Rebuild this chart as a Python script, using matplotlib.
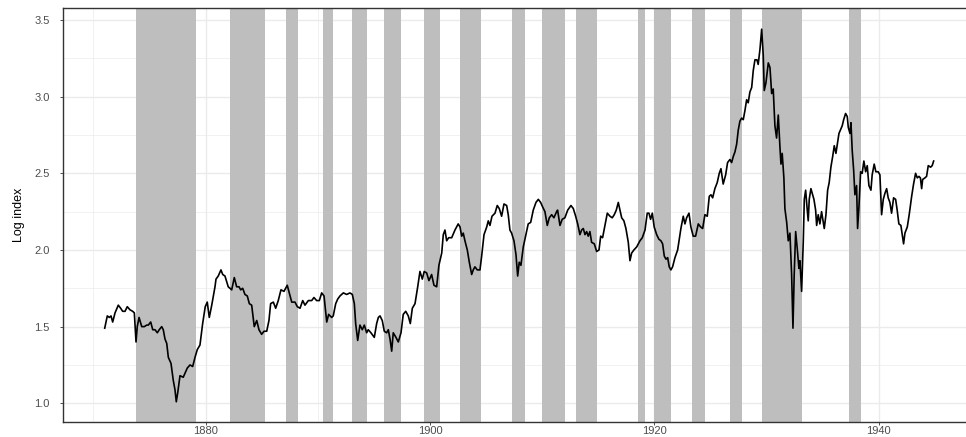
import matplotlib
matplotlib.use("Agg")
import matplotlib.pyplot as plt
from matplotlib.ticker import MultipleLocator

# monthly-ish readings of the log stock price index
years = [
    1871.00, 1871.23, 1871.41, 1871.56, 1871.71, 1871.92, 1872.21, 1872.42, 1872.60, 1872.81,
    1873.01, 1873.25, 1873.49, 1873.64, 1873.79, 1873.90, 1874.06, 1874.30, 1874.53, 1874.74,
    1874.88, 1875.10, 1875.28, 1875.48, 1875.69, 1875.86, 1876.08, 1876.22, 1876.37, 1876.53,
    1876.67, 1876.91, 1877.11, 1877.26, 1877.38, 1877.51, 1877.71, 1878.00, 1878.18, 1878.36,
    1878.60, 1878.84, 1879.05, 1879.25, 1879.49, 1879.73, 1879.96, 1880.14, 1880.32, 1880.54,
    1880.83, 1880.92, 1881.12, 1881.36, 1881.52, 1881.72, 1882.01, 1882.32, 1882.55, 1882.76,
    1882.97, 1883.12, 1883.30, 1883.50, 1883.71, 1883.89, 1884.10, 1884.33, 1884.55, 1884.75,
    1884.99, 1885.20, 1885.44, 1885.64, 1885.79, 1886.03, 1886.24, 1886.47, 1886.71, 1886.98,
    1887.27, 1887.45, 1887.67, 1887.96, 1888.17, 1888.41, 1888.65, 1888.85, 1889.15, 1889.45,
    1889.65, 1889.89, 1890.13, 1890.34, 1890.55, 1890.79, 1890.96, 1891.23, 1891.37, 1891.59,
    1891.77, 1891.97, 1892.27, 1892.57, 1892.86, 1893.07, 1893.25, 1893.37, 1893.55, 1893.75,
    1893.96, 1894.14, 1894.35, 1894.49, 1894.73, 1895.03, 1895.24, 1895.39, 1895.54, 1895.74,
    1895.92, 1896.13, 1896.28, 1896.43, 1896.58, 1896.72, 1896.96, 1897.17, 1897.41, 1897.61,
    1897.83, 1898.06, 1898.24, 1898.42, 1898.66, 1898.90, 1899.10, 1899.31, 1899.48, 1899.70,
    1899.90, 1900.14, 1900.35, 1900.59, 1900.79, 1901.04, 1901.18, 1901.33, 1901.48, 1901.66,
    1901.93, 1902.22, 1902.51, 1902.67, 1902.82, 1902.96, 1903.11, 1903.32, 1903.50, 1903.71,
    1903.85, 1904.00, 1904.21, 1904.45, 1904.60, 1904.81, 1905.05, 1905.19, 1905.34, 1905.52,
    1905.79, 1905.99, 1906.17, 1906.38, 1906.59, 1906.83, 1906.97, 1907.12, 1907.27, 1907.48,
    1907.66, 1907.81, 1907.95, 1908.10, 1908.31, 1908.55, 1908.75, 1908.97, 1909.20, 1909.44,
    1909.65, 1909.86, 1910.04, 1910.24, 1910.45, 1910.63, 1910.84, 1911.04, 1911.28, 1911.37,
    1911.58, 1911.78, 1912.02, 1912.27, 1912.56, 1912.77, 1912.98, 1913.16, 1913.36, 1913.51,
    1913.66, 1913.81, 1913.96, 1914.10, 1914.25, 1914.40, 1914.64, 1914.85, 1915.06, 1915.21,
    1915.38, 1915.59, 1915.80, 1916.04, 1916.24, 1916.42, 1916.60, 1916.78, 1916.93, 1917.08,
    1917.28, 1917.46, 1917.67, 1917.82, 1917.97, 1918.17, 1918.42, 1918.71, 1918.92, 1919.16,
    1919.36, 1919.51, 1919.66, 1919.81, 1919.98, 1920.20, 1920.40, 1920.58, 1920.73, 1920.88,
    1921.03, 1921.18, 1921.32, 1921.47, 1921.62, 1921.83, 1922.07, 1922.27, 1922.36, 1922.57,
    1922.72, 1922.87, 1923.08, 1923.25, 1923.46, 1923.67, 1923.91, 1924.12, 1924.30, 1924.50,
    1924.71, 1924.89, 1925.04, 1925.19, 1925.39, 1925.60, 1925.78, 1925.93, 1926.13, 1926.35,
    1926.52, 1926.73, 1926.88, 1927.03, 1927.18, 1927.33, 1927.47, 1927.62, 1927.77, 1927.92,
    1928.07, 1928.22, 1928.36, 1928.51, 1928.67, 1928.81, 1928.96, 1929.14, 1929.25, 1929.41,
    1929.56, 1929.70, 1929.79, 1929.94, 1930.15, 1930.30, 1930.45, 1930.59, 1930.74, 1930.89,
    1931.04, 1931.19, 1931.28, 1931.39, 1931.54, 1931.63, 1931.79, 1931.93, 1932.08, 1932.23,
    1932.35, 1932.46, 1932.59, 1932.73, 1932.88, 1932.97, 1933.12, 1933.27, 1933.36, 1933.48,
    1933.60, 1933.71, 1933.80, 1933.95, 1934.22, 1934.37, 1934.46, 1934.60, 1934.75, 1934.90,
    1935.14, 1935.29, 1935.44, 1935.58, 1935.73, 1935.89, 1936.03, 1936.18, 1936.30, 1936.45,
    1936.74, 1936.87, 1937.04, 1937.19, 1937.28, 1937.43, 1937.52, 1937.63, 1937.76, 1937.87,
    1938.02, 1938.11, 1938.23, 1938.38, 1938.52, 1938.67, 1938.83, 1938.97, 1939.12, 1939.30,
    1939.41, 1939.59, 1939.74, 1939.95, 1940.10, 1940.25, 1940.40, 1940.55, 1940.70, 1940.84,
    1940.99, 1941.14, 1941.32, 1941.50, 1941.64, 1941.79, 1941.97, 1942.09, 1942.21, 1942.33,
    1942.54, 1942.71, 1942.93, 1943.10, 1943.28, 1943.43, 1943.58, 1943.71, 1943.82, 1943.91,
    1944.11, 1944.26, 1944.41, 1944.62, 1944.76, 1944.89,
]
log_index = [
    1.49, 1.57, 1.56, 1.57, 1.53, 1.59, 1.64, 1.62, 1.60, 1.60,
    1.63, 1.61, 1.60, 1.59, 1.40, 1.50, 1.56, 1.50, 1.50, 1.51,
    1.51, 1.53, 1.48, 1.48, 1.46, 1.48, 1.50, 1.48, 1.42, 1.39,
    1.30, 1.26, 1.15, 1.09, 1.01, 1.07, 1.18, 1.17, 1.20, 1.23,
    1.25, 1.24, 1.30, 1.35, 1.38, 1.52, 1.63, 1.66, 1.56, 1.64,
    1.76, 1.81, 1.83, 1.87, 1.84, 1.83, 1.76, 1.74, 1.82, 1.76,
    1.76, 1.74, 1.75, 1.71, 1.70, 1.65, 1.64, 1.50, 1.54, 1.48,
    1.45, 1.47, 1.47, 1.54, 1.65, 1.66, 1.62, 1.67, 1.74, 1.73,
    1.77, 1.72, 1.66, 1.66, 1.63, 1.62, 1.67, 1.64, 1.67, 1.67,
    1.69, 1.67, 1.67, 1.72, 1.70, 1.53, 1.58, 1.56, 1.57, 1.65,
    1.68, 1.70, 1.72, 1.71, 1.72, 1.71, 1.65, 1.52, 1.41, 1.51,
    1.48, 1.51, 1.46, 1.48, 1.46, 1.43, 1.52, 1.56, 1.57, 1.54,
    1.47, 1.46, 1.48, 1.42, 1.34, 1.46, 1.43, 1.40, 1.46, 1.58,
    1.60, 1.57, 1.52, 1.62, 1.65, 1.76, 1.86, 1.81, 1.86, 1.85,
    1.80, 1.84, 1.77, 1.76, 1.90, 1.98, 2.10, 2.13, 2.06, 2.08,
    2.08, 2.13, 2.17, 2.15, 2.09, 2.11, 2.06, 2.00, 1.92, 1.84,
    1.87, 1.89, 1.87, 1.87, 1.96, 2.10, 2.15, 2.19, 2.16, 2.22,
    2.24, 2.29, 2.27, 2.22, 2.30, 2.29, 2.23, 2.13, 2.11, 2.06,
    1.97, 1.83, 1.92, 1.90, 2.02, 2.10, 2.17, 2.18, 2.26, 2.31,
    2.33, 2.31, 2.28, 2.25, 2.16, 2.21, 2.23, 2.21, 2.25, 2.26,
    2.16, 2.20, 2.21, 2.26, 2.29, 2.27, 2.22, 2.17, 2.10, 2.13,
    2.14, 2.10, 2.12, 2.09, 2.12, 2.05, 2.04, 1.99, 2.00, 2.09,
    2.08, 2.16, 2.24, 2.22, 2.21, 2.23, 2.26, 2.31, 2.26, 2.21,
    2.19, 2.14, 2.05, 1.93, 1.98, 2.00, 2.02, 2.06, 2.08, 2.13,
    2.24, 2.24, 2.20, 2.24, 2.15, 2.10, 2.07, 2.06, 2.04, 1.96,
    1.94, 1.95, 1.89, 1.87, 1.89, 1.95, 2.00, 2.10, 2.14, 2.22,
    2.17, 2.21, 2.24, 2.15, 2.09, 2.09, 2.17, 2.15, 2.14, 2.23,
    2.22, 2.35, 2.36, 2.34, 2.40, 2.44, 2.50, 2.53, 2.43, 2.49,
    2.57, 2.59, 2.57, 2.61, 2.64, 2.69, 2.78, 2.84, 2.86, 2.85,
    2.91, 2.98, 2.96, 3.03, 3.06, 3.17, 3.24, 3.24, 3.21, 3.31,
    3.44, 3.27, 3.04, 3.09, 3.22, 3.19, 3.02, 3.05, 2.81, 2.73,
    2.88, 2.67, 2.56, 2.63, 2.47, 2.27, 2.18, 2.06, 2.11, 1.84,
    1.49, 1.84, 2.12, 2.01, 1.88, 1.93, 1.73, 2.06, 2.33, 2.39,
    2.28, 2.19, 2.33, 2.40, 2.33, 2.26, 2.16, 2.23, 2.17, 2.25,
    2.14, 2.23, 2.39, 2.44, 2.54, 2.61, 2.68, 2.63, 2.69, 2.76,
    2.81, 2.85, 2.89, 2.87, 2.80, 2.76, 2.83, 2.65, 2.52, 2.36,
    2.42, 2.14, 2.28, 2.51, 2.50, 2.58, 2.51, 2.55, 2.42, 2.39,
    2.49, 2.56, 2.51, 2.51, 2.49, 2.23, 2.33, 2.37, 2.40, 2.34,
    2.31, 2.24, 2.34, 2.33, 2.26, 2.17, 2.16, 2.10, 2.04, 2.11,
    2.15, 2.23, 2.35, 2.43, 2.50, 2.47, 2.48, 2.47, 2.40, 2.46,
    2.47, 2.48, 2.55, 2.54, 2.55, 2.58,
]

# NBER business cycle contractions (peak, trough)
rec_start = [1873.75, 1882.17, 1887.17, 1890.50, 1893.00, 1895.92, 1899.42, 1902.67, 1907.33,
             1910.00, 1913.00, 1918.58, 1920.00, 1923.33, 1926.75, 1929.58, 1937.33]
rec_end = [1879.17, 1885.33, 1888.25, 1891.33, 1894.42, 1897.42, 1900.92, 1904.58, 1908.42,
           1912.00, 1914.92, 1919.17, 1921.50, 1924.50, 1927.83, 1933.17, 1938.42]

fig = plt.figure(figsize=(9.66, 4.37), dpi=100)
ax = fig.add_axes([0.0652, 0.0343, 0.943, 0.947])

for s, e in zip(rec_start, rec_end):
    ax.axvspan(s, e, color="#bebebe", lw=0, zorder=1)

ax.plot(years, log_index, color="black", lw=1.2, zorder=3)

ax.set_xlim(1867.28, 1948.48)
ax.set_ylim(0.878, 3.577)
ax.set_xticks([1880, 1900, 1920, 1940])
ax.set_yticks([1.0, 1.5, 2.0, 2.5, 3.0, 3.5])
ax.xaxis.set_minor_locator(MultipleLocator(10))
ax.yaxis.set_minor_locator(MultipleLocator(0.25))
ax.grid(True, which="major", color="#ebebeb", lw=1.0, zorder=0)
ax.grid(True, which="minor", color="#ebebeb", lw=0.5, zorder=0)
ax.set_axisbelow(True)

ax.tick_params(which="major", length=2.5, width=0.6, color="#333333",
               labelcolor="#4d4d4d", labelsize=8)
ax.tick_params(axis="x", which="major", pad=0.5)
ax.tick_params(axis="y", which="major", pad=7)
ax.tick_params(which="minor", length=0)
for t in ax.get_xticklabels() + ax.get_yticklabels():
    t.set_family("Liberation Sans")

for sp in ax.spines.values():
    sp.set_color("#333333")
    sp.set_linewidth(1.0)

ax.set_ylabel("Log index", family=["Liberation Sans Narrow", "Liberation Sans"],
              fontsize=9, color="black", labelpad=7)

fig.savefig("out.png", dpi=100)
